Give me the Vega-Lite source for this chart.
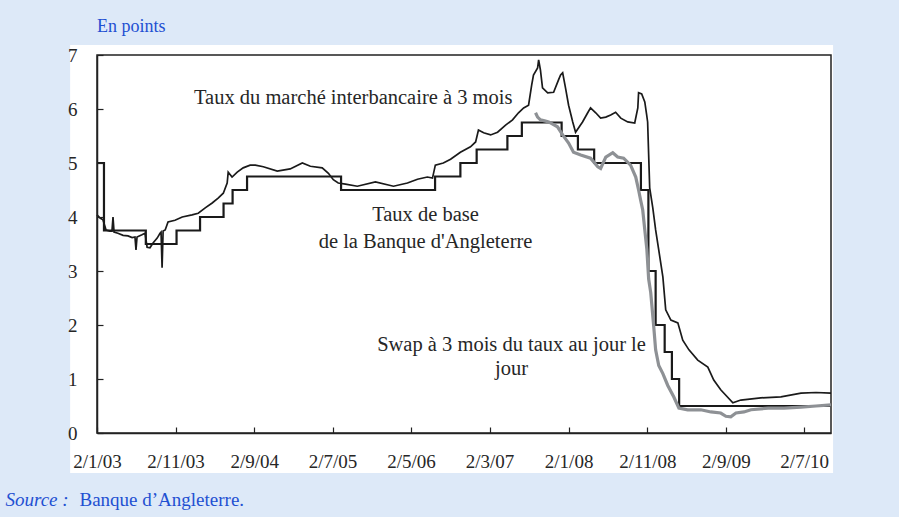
{
  "$schema": "https://vega.github.io/schema/vega-lite/v6.json",
  "width": 734,
  "height": 378,
  "autosize": {"type": "none"},
  "padding": {"left": 97, "top": 55, "right": 68, "bottom": 84},
  "background": "#dde9f8",
  "config": {
    "view": {"stroke": null, "fill": "white"},
    "font": "Liberation Serif"
  },
  "title": {
    "text": "En points",
    "anchor": "start",
    "frame": "group",
    "orient": "top",
    "offset": 24,
    "dy": 29,
    "baseline": "alphabetic",
    "font": "Liberation Serif",
    "fontSize": 18,
    "fontWeight": "normal",
    "color": "#1f50d2"
  },
  "datasets": {
    "one": [{"k": 1}],
    "libor": [
      {"date": "2003-01-02", "v": 4.04}, {"date": "2003-01-14", "v": 3.98}, {"date": "2003-01-25", "v": 3.95},
      {"date": "2003-02-06", "v": 3.76}, {"date": "2003-02-21", "v": 3.74}, {"date": "2003-03-01", "v": 3.74},
      {"date": "2003-03-05", "v": 4.0}, {"date": "2003-03-09", "v": 3.72}, {"date": "2003-03-24", "v": 3.70},
      {"date": "2003-04-13", "v": 3.66}, {"date": "2003-05-02", "v": 3.65}, {"date": "2003-05-18", "v": 3.62},
      {"date": "2003-05-29", "v": 3.63}, {"date": "2003-06-02", "v": 3.39}, {"date": "2003-06-06", "v": 3.63},
      {"date": "2003-06-25", "v": 3.67}, {"date": "2003-07-07", "v": 3.70}, {"date": "2003-07-15", "v": 3.44},
      {"date": "2003-07-26", "v": 3.43}, {"date": "2003-08-07", "v": 3.52}, {"date": "2003-08-23", "v": 3.61},
      {"date": "2003-09-03", "v": 3.70}, {"date": "2003-09-07", "v": 3.72}, {"date": "2003-09-11", "v": 3.06},
      {"date": "2003-09-15", "v": 3.74}, {"date": "2003-09-23", "v": 3.76}, {"date": "2003-10-04", "v": 3.91},
      {"date": "2003-10-31", "v": 3.94}, {"date": "2003-11-28", "v": 4.0}, {"date": "2004-01-05", "v": 4.04},
      {"date": "2004-01-29", "v": 4.07}, {"date": "2004-02-25", "v": 4.17}, {"date": "2004-03-23", "v": 4.26},
      {"date": "2004-04-15", "v": 4.35}, {"date": "2004-05-05", "v": 4.44}, {"date": "2004-05-20", "v": 4.63},
      {"date": "2004-05-24", "v": 4.83}, {"date": "2004-06-08", "v": 4.74}, {"date": "2004-06-28", "v": 4.83},
      {"date": "2004-07-21", "v": 4.91}, {"date": "2004-08-17", "v": 4.96}, {"date": "2004-09-06", "v": 4.96},
      {"date": "2004-10-07", "v": 4.93}, {"date": "2004-11-30", "v": 4.85}, {"date": "2005-01-19", "v": 4.89},
      {"date": "2005-03-07", "v": 5.0}, {"date": "2005-04-07", "v": 4.94}, {"date": "2005-05-23", "v": 4.91},
      {"date": "2005-06-16", "v": 4.81}, {"date": "2005-07-05", "v": 4.69}, {"date": "2005-07-24", "v": 4.63},
      {"date": "2005-08-21", "v": 4.61}, {"date": "2005-10-06", "v": 4.57}, {"date": "2005-12-15", "v": 4.65},
      {"date": "2006-02-23", "v": 4.57}, {"date": "2006-04-18", "v": 4.63}, {"date": "2006-05-27", "v": 4.70},
      {"date": "2006-07-04", "v": 4.74}, {"date": "2006-07-24", "v": 4.72}, {"date": "2006-08-04", "v": 4.96},
      {"date": "2006-09-04", "v": 5.0}, {"date": "2006-10-02", "v": 5.07}, {"date": "2006-11-09", "v": 5.2},
      {"date": "2006-12-18", "v": 5.3}, {"date": "2007-01-07", "v": 5.39}, {"date": "2007-01-18", "v": 5.61},
      {"date": "2007-02-07", "v": 5.56}, {"date": "2007-03-06", "v": 5.52}, {"date": "2007-04-02", "v": 5.57},
      {"date": "2007-05-03", "v": 5.70}, {"date": "2007-05-30", "v": 5.80}, {"date": "2007-06-22", "v": 5.93},
      {"date": "2007-07-12", "v": 6.02}, {"date": "2007-07-31", "v": 6.07}, {"date": "2007-08-12", "v": 6.44},
      {"date": "2007-08-19", "v": 6.63}, {"date": "2007-09-04", "v": 6.76}, {"date": "2007-09-08", "v": 6.91},
      {"date": "2007-09-15", "v": 6.72}, {"date": "2007-09-23", "v": 6.39}, {"date": "2007-10-13", "v": 6.30},
      {"date": "2007-11-05", "v": 6.31}, {"date": "2007-11-24", "v": 6.54}, {"date": "2007-12-02", "v": 6.63},
      {"date": "2007-12-10", "v": 6.67}, {"date": "2007-12-21", "v": 6.39}, {"date": "2008-01-02", "v": 6.07},
      {"date": "2008-01-18", "v": 5.76}, {"date": "2008-01-29", "v": 5.57}, {"date": "2008-02-25", "v": 5.76},
      {"date": "2008-03-16", "v": 5.93}, {"date": "2008-03-27", "v": 6.02}, {"date": "2008-04-16", "v": 5.93},
      {"date": "2008-05-05", "v": 5.83}, {"date": "2008-05-25", "v": 5.85}, {"date": "2008-06-13", "v": 5.89},
      {"date": "2008-07-02", "v": 5.94}, {"date": "2008-07-22", "v": 5.83}, {"date": "2008-08-18", "v": 5.76},
      {"date": "2008-09-14", "v": 5.74}, {"date": "2008-09-26", "v": 6.02}, {"date": "2008-09-29", "v": 6.30},
      {"date": "2008-10-11", "v": 6.28}, {"date": "2008-10-23", "v": 6.13}, {"date": "2008-10-30", "v": 5.9},
      {"date": "2008-11-03", "v": 5.76}, {"date": "2008-11-07", "v": 5.15}, {"date": "2008-11-11", "v": 4.54},
      {"date": "2008-11-23", "v": 4.17}, {"date": "2008-12-04", "v": 3.76}, {"date": "2008-12-16", "v": 3.39},
      {"date": "2009-01-01", "v": 2.89}, {"date": "2009-01-12", "v": 2.28}, {"date": "2009-02-01", "v": 2.09},
      {"date": "2009-02-28", "v": 2.04}, {"date": "2009-03-19", "v": 1.72}, {"date": "2009-04-12", "v": 1.54},
      {"date": "2009-05-16", "v": 1.35}, {"date": "2009-06-24", "v": 1.22}, {"date": "2009-07-17", "v": 0.98},
      {"date": "2009-08-13", "v": 0.80}, {"date": "2009-09-29", "v": 0.56}, {"date": "2009-10-30", "v": 0.61},
      {"date": "2010-01-15", "v": 0.65}, {"date": "2010-04-03", "v": 0.67}, {"date": "2010-06-20", "v": 0.74},
      {"date": "2010-08-17", "v": 0.75}, {"date": "2010-10-14", "v": 0.74}
    ],
    "base": [
      {"date": "2003-01-02", "v": 5.0}, {"date": "2003-01-29", "v": 3.75}, {"date": "2003-07-10", "v": 3.5},
      {"date": "2003-11-06", "v": 3.75}, {"date": "2004-02-05", "v": 4.0}, {"date": "2004-05-06", "v": 4.25},
      {"date": "2004-06-10", "v": 4.5}, {"date": "2004-08-05", "v": 4.75}, {"date": "2005-08-04", "v": 4.5},
      {"date": "2006-08-03", "v": 4.75}, {"date": "2006-11-09", "v": 5.0}, {"date": "2007-01-11", "v": 5.25},
      {"date": "2007-05-10", "v": 5.5}, {"date": "2007-07-05", "v": 5.75}, {"date": "2007-12-06", "v": 5.5},
      {"date": "2008-02-07", "v": 5.25}, {"date": "2008-04-10", "v": 5.0}, {"date": "2008-10-08", "v": 4.5},
      {"date": "2008-11-06", "v": 3.0}, {"date": "2008-12-04", "v": 2.0}, {"date": "2009-01-08", "v": 1.5},
      {"date": "2009-02-05", "v": 1.0}, {"date": "2009-03-05", "v": 0.5}, {"date": "2010-10-14", "v": 0.5}
    ],
    "ois": [
      {"date": "2007-08-27", "v": 5.93}, {"date": "2007-09-04", "v": 5.85}, {"date": "2007-09-15", "v": 5.80},
      {"date": "2007-10-01", "v": 5.78}, {"date": "2007-10-17", "v": 5.76}, {"date": "2007-11-20", "v": 5.67},
      {"date": "2007-12-10", "v": 5.52}, {"date": "2008-01-02", "v": 5.37}, {"date": "2008-01-21", "v": 5.20},
      {"date": "2008-02-18", "v": 5.15}, {"date": "2008-03-27", "v": 5.09}, {"date": "2008-04-24", "v": 4.93},
      {"date": "2008-05-05", "v": 4.90}, {"date": "2008-05-25", "v": 5.11}, {"date": "2008-06-21", "v": 5.19},
      {"date": "2008-07-10", "v": 5.11}, {"date": "2008-08-02", "v": 5.09}, {"date": "2008-08-29", "v": 4.96},
      {"date": "2008-09-18", "v": 4.74}, {"date": "2008-09-29", "v": 4.50}, {"date": "2008-10-07", "v": 4.31},
      {"date": "2008-10-15", "v": 4.13}, {"date": "2008-10-23", "v": 3.76}, {"date": "2008-10-31", "v": 3.40},
      {"date": "2008-11-07", "v": 2.85}, {"date": "2008-11-15", "v": 2.60}, {"date": "2008-11-27", "v": 1.95},
      {"date": "2008-12-04", "v": 1.54}, {"date": "2008-12-16", "v": 1.25}, {"date": "2009-01-01", "v": 1.10},
      {"date": "2009-01-20", "v": 0.88}, {"date": "2009-02-12", "v": 0.67}, {"date": "2009-03-04", "v": 0.46},
      {"date": "2009-04-07", "v": 0.43}, {"date": "2009-05-28", "v": 0.43}, {"date": "2009-07-06", "v": 0.39},
      {"date": "2009-08-13", "v": 0.37}, {"date": "2009-09-02", "v": 0.31}, {"date": "2009-09-21", "v": 0.30},
      {"date": "2009-10-11", "v": 0.37}, {"date": "2009-11-11", "v": 0.39}, {"date": "2009-12-08", "v": 0.43},
      {"date": "2010-02-12", "v": 0.46}, {"date": "2010-04-15", "v": 0.46}, {"date": "2010-06-20", "v": 0.48},
      {"date": "2010-08-17", "v": 0.50}, {"date": "2010-10-14", "v": 0.52}
    ]
  },
  "layer": [
    {
      "data": {"name": "one"},
      "mark": {"type": "rect", "fill": "white", "clip": false},
      "encoding": {
        "x": {"datum": {"year": 2002, "month": 9, "date": 20, "utc": true}, "type": "temporal", "scale": {"type": "utc"}},
        "x2": {"datum": {"year": 2010, "month": 10, "date": 22, "utc": true}},
        "y": {"datum": 7.185, "type": "quantitative"},
        "y2": {"datum": -0.74}
      }
    },
    {
      "data": {"name": "one"},
      "mark": {"type": "rect", "fillOpacity": 0, "stroke": "#222222", "strokeWidth": 1.5, "clip": false},
      "encoding": {
        "x": {"datum": {"year": 2003, "month": 1, "date": 2, "utc": true}, "type": "temporal", "scale": {"type": "utc"}},
        "x2": {"datum": {"year": 2010, "month": 10, "date": 14, "utc": true}},
        "y": {"datum": 7, "type": "quantitative"},
        "y2": {"datum": 0}
      }
    },
    {
      "data": {"name": "libor"},
      "mark": {"type": "line", "color": "#1a1a1a", "strokeWidth": 1.7},
      "encoding": {
        "x": {
          "field": "date", "type": "temporal",
          "scale": {"type": "utc", "domain": [{"year": 2003, "month": 1, "date": 2, "utc": true}, {"year": 2010, "month": 10, "date": 14, "utc": true}]},
          "axis": {
            "values": [
              {"year": 2003, "month": 1, "date": 2, "utc": true},
              {"year": 2003, "month": 11, "date": 2, "utc": true},
              {"year": 2004, "month": 9, "date": 2, "utc": true},
              {"year": 2005, "month": 7, "date": 2, "utc": true},
              {"year": 2006, "month": 5, "date": 2, "utc": true},
              {"year": 2007, "month": 3, "date": 2, "utc": true},
              {"year": 2008, "month": 1, "date": 2, "utc": true},
              {"year": 2008, "month": 11, "date": 2, "utc": true},
              {"year": 2009, "month": 9, "date": 2, "utc": true},
              {"year": 2010, "month": 7, "date": 2, "utc": true}
            ],
            "format": "%-d/%-m/%y",
            "grid": false,
            "labelFlush": false,
            "labelOverlap": false,
            "labelFont": "Liberation Serif",
            "labelFontSize": 19,
            "labelColor": "#262626",
            "labelPadding": 25,
            "tickSize": -6,
            "tickColor": "#222222",
            "tickWidth": 1.2,
            "domainColor": "#222222",
            "domainWidth": 1.5,
            "zindex": 1,
            "title": "Banque d’Angleterre.",
            "titleX": -18,
            "titleY": 72,
            "titleAlign": "left",
            "titleBaseline": "alphabetic",
            "titleColor": "#1f50d2",
            "titleFont": "Liberation Serif",
            "titleFontSize": 19,
            "titleFontWeight": "normal"
          }
        },
        "y": {
          "field": "v", "type": "quantitative",
          "scale": {"domain": [0, 7], "nice": false, "zero": false},
          "axis": {
            "values": [0, 1, 2, 3, 4, 5, 6, 7],
            "format": "d",
            "grid": false,
            "labelFont": "Liberation Serif",
            "labelFontSize": 19,
            "labelColor": "#262626",
            "labelPadding": 26,
            "tickSize": -6,
            "tickColor": "#222222",
            "tickWidth": 1.2,
            "domainColor": "#222222",
            "domainWidth": 1.5,
            "zindex": 1,
            "title": "Source :",
            "titleAngle": 0,
            "titleX": -92,
            "titleY": 450,
            "titleAlign": "left",
            "titleBaseline": "alphabetic",
            "titleColor": "#1f50d2",
            "titleFont": "Liberation Serif",
            "titleFontSize": 19,
            "titleFontWeight": "normal",
            "titleFontStyle": "italic"
          }
        }
      }
    },
    {
      "data": {"name": "base"},
      "mark": {"type": "line", "color": "#1a1a1a", "strokeWidth": 2.2, "interpolate": "step-after"},
      "encoding": {
        "x": {"field": "date", "type": "temporal", "scale": {"type": "utc"}},
        "y": {"field": "v", "type": "quantitative"}
      }
    },
    {
      "data": {"name": "ois"},
      "mark": {"type": "line", "color": "#8e9195", "strokeWidth": 3.2},
      "encoding": {
        "x": {"field": "date", "type": "temporal", "scale": {"type": "utc"}},
        "y": {"field": "v", "type": "quantitative"}
      }
    },
    {
      "data": {"name": "one"},
      "mark": {"type": "text", "text": "Taux du marché interbancaire à 3 mois", "font": "Liberation Serif", "fontSize": 20.5, "color": "#262626", "align": "center", "baseline": "middle"},
      "encoding": {
        "x": {"datum": {"year": 2005, "month": 9, "date": 20, "utc": true}, "type": "temporal", "scale": {"type": "utc"}},
        "y": {"datum": 6.2, "type": "quantitative"}
      }
    },
    {
      "data": {"name": "one"},
      "mark": {"type": "text", "text": ["Taux de base", "de la Banque d'Angleterre"], "lineHeight": 27, "font": "Liberation Serif", "fontSize": 20.5, "color": "#262626", "align": "center", "baseline": "middle"},
      "encoding": {
        "x": {"datum": {"year": 2006, "month": 6, "date": 27, "utc": true}, "type": "temporal", "scale": {"type": "utc"}},
        "y": {"datum": 4.04, "type": "quantitative"}
      }
    },
    {
      "data": {"name": "one"},
      "mark": {"type": "text", "text": ["Swap à 3 mois du taux au jour le", "jour"], "lineHeight": 24, "font": "Liberation Serif", "fontSize": 20.5, "color": "#262626", "align": "center", "baseline": "middle"},
      "encoding": {
        "x": {"datum": {"year": 2007, "month": 5, "date": 26, "utc": true}, "type": "temporal", "scale": {"type": "utc"}},
        "y": {"datum": 1.63, "type": "quantitative"}
      }
    }
  ]
}
